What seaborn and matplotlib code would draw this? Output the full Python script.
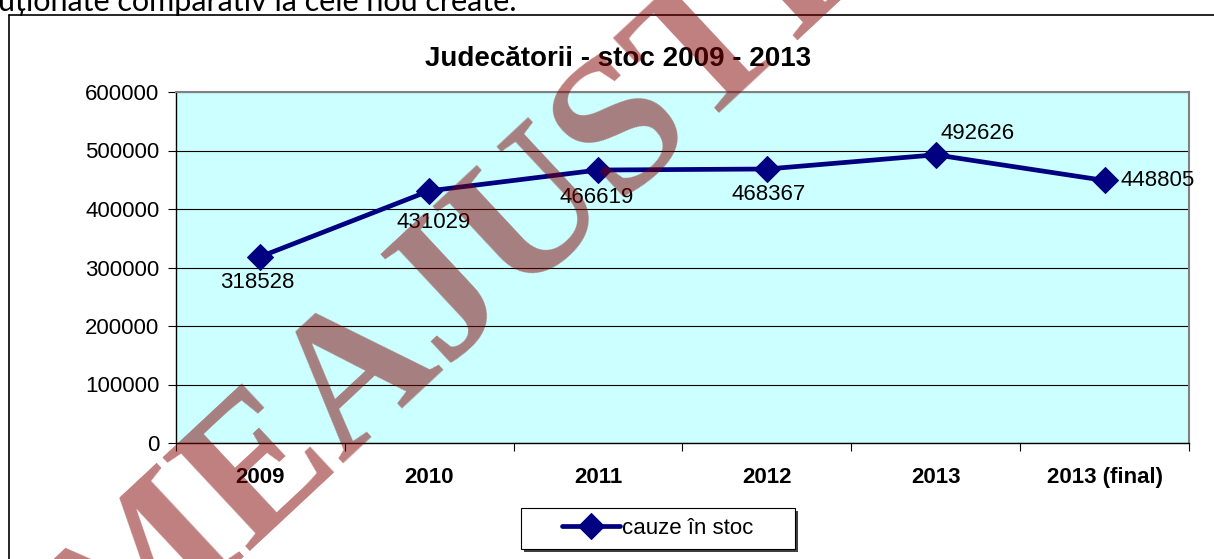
import numpy as np
import pandas as pd
import matplotlib
matplotlib.use("Agg")
import matplotlib.pyplot as plt
from matplotlib.lines import Line2D
from matplotlib.patches import Rectangle
from matplotlib.ticker import FixedLocator, NullFormatter
import seaborn as sns

# Data
ani = ['2009', '2010', '2011', '2012', '2013', '2013 (final)']
cauze_stoc = [318528, 431029, 466619, 468367, 492626, 448805]
y_ticks = [0, 100000, 200000, 300000, 400000, 500000, 600000]

# label offsets in pixels (dx, dy) relative to each point
label_offsets = [(-3, -26), (4, -32), (-1, -27), (2, -25), (42, 21), (53, 0)]

sns.set_theme(style='white', rc={'text.color': 'black', 'xtick.color': 'black',
                                 'ytick.color': 'black', 'axes.labelcolor': 'black'})
plt.rcParams['font.family'] = ['Liberation Sans', 'DejaVu Sans']

W, H = 1214, 559
fig = plt.figure(figsize=(W / 100, H / 100), dpi=100)
fig.patch.set_facecolor('white')

# text of the document cut at the top
fig.text(-0.002, 1 - 11 / H, 'uționate comparativ la cele nou create.', fontsize=22,
         family=['Lato', 'DejaVu Sans'], ha='left', va='baseline', color='black')

# outer chart frame (left and top edge visible)
fig.add_artist(Line2D([8.5 / W, 8.5 / W], [0, 1 - 15 / H], color='black', lw=1.2))
fig.add_artist(Line2D([8.5 / W, 1], [1 - 15 / H, 1 - 15 / H], color='black', lw=1.2))

ax = fig.add_axes([176 / W, 116 / H, (1189 - 176) / W, (443 - 92) / H])
ax.set_facecolor('#CCFFFF')

df = pd.DataFrame({'poz': np.arange(len(ani)), 'cauze': cauze_stoc})
sns.lineplot(data=df, x='poz', y='cauze', color='#000080', linewidth=3.4,
             marker='D', markersize=13, markeredgecolor='#000080',
             label='cauze în stoc', ax=ax, zorder=3)

ax.set_xlim(-0.5, len(ani) - 0.5)
ax.set_ylim(0, 600000)
ax.set_yticks(y_ticks)
ax.set_yticklabels([str(v) for v in y_ticks])
ax.yaxis.grid(True, color='black', linewidth=0.8)
ax.set_axisbelow(True)

ax.xaxis.set_major_locator(FixedLocator(np.arange(-0.5, len(ani), 1.0)))
ax.xaxis.set_major_formatter(NullFormatter())
ax.set_xticks(np.arange(len(ani)), minor=True)
ax.set_xticklabels(ani, minor=True, fontsize=16, fontweight='bold')
ax.tick_params(axis='x', which='major', direction='out', length=6, width=0.8,
               color='black', bottom=True)
ax.tick_params(axis='x', which='minor', length=0, pad=17)
ax.tick_params(axis='y', direction='out', length=6, width=0.8, color='black',
               left=True, labelsize=16, pad=6)
ax.set_xlabel('')
ax.set_ylabel('')

for side in ['top', 'right']:
    ax.spines[side].set_color('#808080')
    ax.spines[side].set_linewidth(1.5)
for side in ['left', 'bottom']:
    ax.spines[side].set_color('black')
    ax.spines[side].set_linewidth(1.0)

for i, (v, off) in enumerate(zip(cauze_stoc, label_offsets)):
    ax.annotate(str(v), (i, v), xytext=off, textcoords='offset pixels',
                ha='center', va='center', fontsize=16, color='black', zorder=4)

fig.text(618 / W, 1 - 66 / H, 'Judecătorii - stoc 2009 - 2013', fontsize=20,
         fontweight='bold', ha='center', va='baseline')

# legend box with shadow, legend itself without frame
fig.add_artist(Rectangle((524 / W, 1 - 552 / H), 274 / W, 41 / H, zorder=-1,
                         transform=fig.transFigure, facecolor='#404040', edgecolor='none'))
fig.add_artist(Rectangle((521 / W, 1 - 549 / H), 274 / W, 41 / H, zorder=-1,
                         transform=fig.transFigure, facecolor='white', edgecolor='black',
                         linewidth=0.8))
leg = ax.legend(loc='center', bbox_to_anchor=(658 / W, 1 - 528 / H),
                bbox_transform=fig.transFigure, fontsize=16, frameon=False,
                handlelength=2.6, handletextpad=0.1, borderpad=0.2,
                borderaxespad=0)

# watermark over the whole page
fig.text(113 / W, 1 - 676 / H, 'MEAJUSTITIE', fontsize=140, fontweight='bold',
         family=['Liberation Serif', 'DejaVu Serif'], color='#810000', alpha=0.5,
         rotation=43, rotation_mode='anchor', ha='left', va='baseline', zorder=10)

fig.savefig('out.png', dpi=100)
